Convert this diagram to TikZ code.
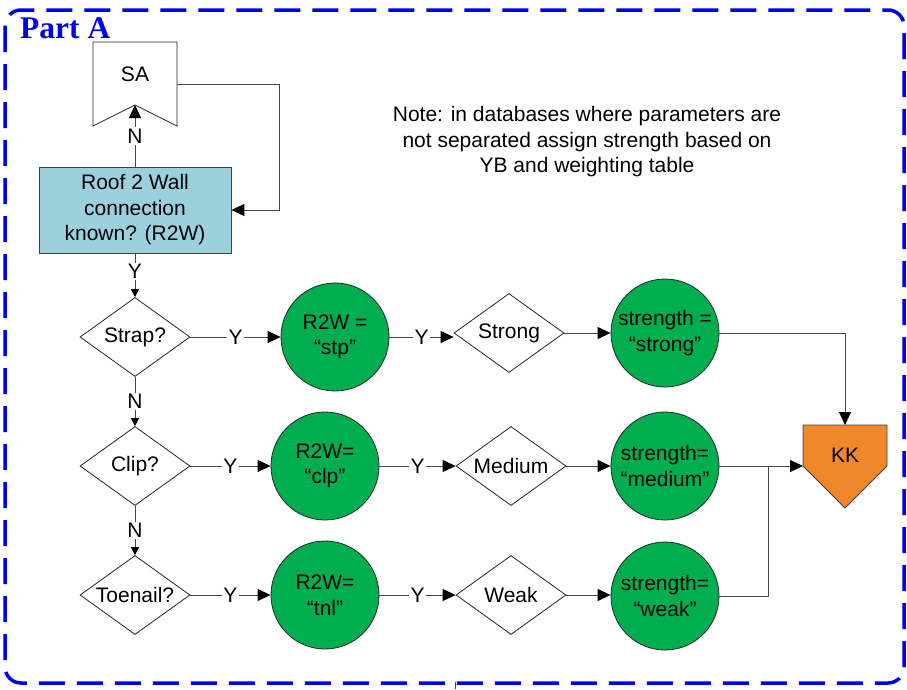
\documentclass[tikz,border=0pt]{standalone}
\usepackage{fontspec}
\setmainfont{Liberation Sans}
\newfontfamily\titlefont{Liberation Serif}
\usetikzlibrary{shapes.geometric,arrows.meta}

\definecolor{boxblue}{RGB}{155,208,220}
\definecolor{nodegreen}{RGB}{0,173,79}
\definecolor{kkorange}{RGB}{240,136,42}
\definecolor{linegray}{RGB}{70,70,70}
\definecolor{frameblue}{RGB}{0,0,240}

\tikzset{
  base/.style={font=\fontsize{21}{25.5}\selectfont, align=center, text=black},
  decision/.style={base, diamond, draw=black!85, line width=0.8pt, fill=white,
    inner sep=0pt, aspect=1.39, minimum width=110pt, minimum height=79pt},
  assign/.style={base, circle, draw=black!85, line width=0.8pt, fill=nodegreen,
    inner sep=0pt, minimum size=108pt},
  procbox/.style={base, rectangle, draw=black!75, line width=0.8pt, fill=boxblue,
    inner sep=0pt, minimum width=192pt, minimum height=86pt},
  flow/.style={draw=linegray, line width=1pt},
  bigtip/.style={-{Triangle[length=13pt,width=12pt,color=black]}},
  smalltip/.style={-{Triangle[length=8pt,width=8pt,color=black]}},
  lbl/.style={base, fill=white, inner sep=1.5pt},
}

\begin{document}
\begin{tikzpicture}[x=1pt,y=-1pt]
\useasboundingbox (0,0) rectangle (907,689);

% outer frame and title
\draw[frameblue, line width=3.5pt, dash pattern=on 26pt off 12pt, rounded corners=16pt]
  (5,10) rectangle (904,683);
\node[anchor=base west, inner sep=0pt, text=frameblue,
  font=\titlefont\bfseries\fontsize{31.5}{31.5}\selectfont] (title) at (20,38) {Part A};

% off-page connector SA
\draw[fill=white, draw=black!85, line width=0.8pt]
  (93,42) -- (177,42) -- (177,126) -- (135,105) -- (93,126) -- cycle;
\node[base] (sa) at (135,74) {SA};
\coordinate (SAn) at (135,105);
\coordinate (SAr) at (177,84);

% note
\node[base] (note) at (587,142) {Note: in databases where parameters are\\not separated assign strength based on\\YB and weighting table};

% main question
\node[procbox] (r2w) at (135,210) {Roof 2 Wall\\connection\\known? (R2W)};

% connection type questions
\node[decision] (strap) at (135,337) {Strap?};
\node[decision] (clip)  at (135,466) {Clip?};
\node[decision] (toe)   at (135,595) {Toenail?};

% R2W assignments
\node[assign] (stp) at (335,337) {R2W =\\“stp”};
\node[assign] (clp) at (325,466) {R2W=\\“clp”};
\node[assign] (tnl) at (325,595) {R2W=\\“tnl”};

% strength classes
\node[decision] (strong) at (509,333) {Strong};
\node[decision] (medium) at (511,466) {Medium};
\node[decision] (weak)   at (511,595) {Weak};

% strength assignments
\node[assign] (sstrong) at (665,333) {strength =\\“strong”};
\node[assign] (smedium) at (665,466) {strength=\\“medium”};
\node[assign] (sweak)   at (665,596) {strength=\\“weak”};

% off-page connector KK
\draw[fill=kkorange, draw=black!75, line width=0.8pt]
  (803,425) -- (887,425) -- (887,466) -- (845,508) -- (803,466) -- cycle;
\node[base] (kk) at (845,455) {KK};
\coordinate (KKtop) at (845,425);
\coordinate (KKleft) at (803,466);
\coordinate (join) at (768,466);
\coordinate (stub) at (455,682);

% connectors
\draw[flow, bigtip] (r2w.north) -- (SAn) node[lbl, midway] (n0) {N};
\draw[flow, bigtip] (SAr) -- ++(102,0) |- (r2w.east);
\draw[flow, smalltip] (r2w.south) -- (strap.north) node[lbl, pos=0.42] (y0) {Y};
\draw[flow, smalltip] (strap.south) -- (clip.north) node[lbl, midway] (n1) {N};
\draw[flow, smalltip] (clip.south) -- (toe.north) node[lbl, midway] (n2) {N};

\draw[flow, bigtip] (strap.east) -- (stp.west) node[lbl, midway] (y1) {Y};
\draw[flow, bigtip] (clip.east) -- (clp.west) node[lbl, midway] (y2) {Y};
\draw[flow, bigtip] (toe.east) -- (tnl.west) node[lbl, midway] (y3) {Y};

\draw[flow, bigtip] (stp.east) -- (stp.east -| strong.west) node[lbl, midway] (y4) {Y};
\draw[flow, bigtip] (clp.east) -- (medium.west) node[lbl, midway] (y5) {Y};
\draw[flow, bigtip] (tnl.east) -- (weak.west) node[lbl, midway] (y6) {Y};

\draw[flow, bigtip] (strong.east) -- (sstrong.west);
\draw[flow, bigtip] (medium.east) -- (smedium.west);
\draw[flow, bigtip] (weak.east) -- (weak.east -| sweak.west);

\draw[flow, bigtip] (sstrong.east) -| (KKtop);
\draw[flow, bigtip] (smedium.east) -- (KKleft);
\draw[flow] (sweak.east) -| (join);
\draw[flow] (stub) -- ++(0,7);
\end{tikzpicture}
\end{document}
